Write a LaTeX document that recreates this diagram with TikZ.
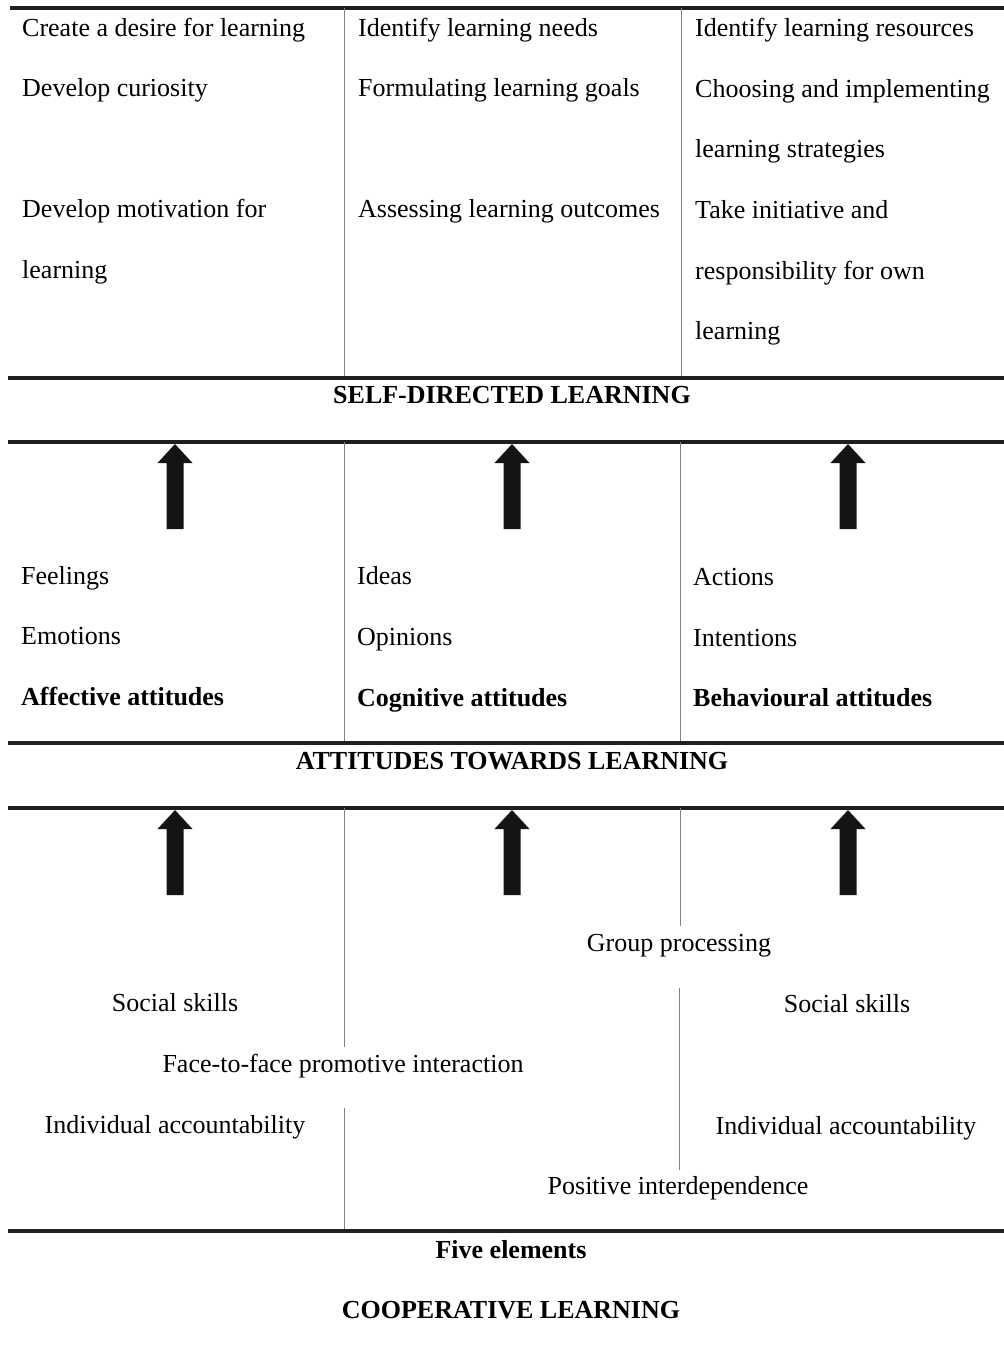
\documentclass[tikz,border=0pt]{standalone}
\usepackage{fontspec}
\setmainfont{Liberation Serif}
\begin{document}
\begin{tikzpicture}[x=1pt,y=-1pt,
  txt/.style={anchor=base west, inner sep=0pt, font=\fontsize{26}{30}\selectfont},
  ctxt/.style={anchor=base, inner sep=0pt, font=\fontsize{26}{30}\selectfont},
  btxt/.style={anchor=base west, inner sep=0pt, font=\fontsize{26}{30}\selectfont\bfseries},
  hdr/.style={anchor=base, inner sep=0pt, font=\fontsize{26}{30}\selectfont\bfseries},
  rule/.style={line width=3.5pt, black!88},
  vline/.style={line width=0.9pt, black!50},
  uparr/.pic={\fill[black!92] (0,0) -- (17.5,19) -- (8.5,19) -- (8.5,85) -- (-8.5,85) -- (-8.5,19) -- (-17.5,19) -- cycle;}
  ]
\fill[white] (0,0) rectangle (1004,1353);
\useasboundingbox (0,0) rectangle (1004,1353);

% ---------- top section ----------
\draw[rule] (10,8) -- (1004,8);
\draw[vline] (344,8) -- (344,378);
\draw[vline] (681,8) -- (681,378);

\node[txt] (a1) at (22,36) {Create a desire for learning};
\node[txt] (a2) at (22,96) {Develop curiosity};
\node[txt] (a3) at (22,217) {Develop motivation for};
\node[txt] (a4) at (22,278) {learning};

\node[txt] (b1) at (358,36) {Identify learning needs};
\node[txt] (b2) at (358,96) {Formulating learning goals};
\node[txt] (b3) at (358,217) {Assessing learning outcomes};

\node[txt] (c1) at (695,36) {Identify learning resources};
\node[txt] (c2) at (695,97) {Choosing and implementing};
\node[txt] (c3) at (695,157) {learning strategies};
\node[txt] (c4) at (695,218) {Take initiative and};
\node[txt] (c5) at (695,279) {responsibility for own};
\node[txt] (c6) at (695,339) {learning};

\draw[rule] (8,378) -- (1004,378);
\node[hdr] (h1) at (512,403) {SELF-DIRECTED LEARNING};
\draw[rule] (8,442) -- (1004,442);

% ---------- middle section ----------
\draw[vline] (344,442) -- (344,743);
\draw[vline] (680,442) -- (680,743);
\pic at (175,444) {uparr};
\pic at (512,444) {uparr};
\pic at (848,444) {uparr};

\node[txt] (d1) at (21,584) {Feelings};
\node[txt] (d2) at (21,644) {Emotions};
\node[btxt] (d3) at (21,705) {Affective attitudes};

\node[txt] (e1) at (357,584) {Ideas};
\node[txt] (e2) at (357,645) {Opinions};
\node[btxt] (e3) at (357,706) {Cognitive attitudes};

\node[txt] (f1) at (693,585) {Actions};
\node[txt] (f2) at (693,646) {Intentions};
\node[btxt] (f3) at (693,706) {Behavioural attitudes};

\draw[rule] (8,743) -- (1004,743);
\node[hdr] (h2) at (512,769) {ATTITUDES TOWARDS LEARNING};
\draw[rule] (8,808) -- (1004,808);

% ---------- bottom section ----------
\draw[vline] (344,808) -- (344,1047);
\draw[vline] (344,1108) -- (344,1231);
\draw[vline] (680,808) -- (680,926);
\draw[vline] (679.5,988) -- (679.5,1170);
\pic at (175,810) {uparr};
\pic at (512,810) {uparr};
\pic at (848,810) {uparr};

\node[ctxt] (g1) at (679,951) {Group processing};
\node[ctxt] (g2) at (175,1011) {Social skills};
\node[ctxt] (g3) at (847,1012) {Social skills};
\node[ctxt] (g4) at (343,1072) {Face-to-face promotive interaction};
\node[ctxt] (g5) at (175,1133) {Individual accountability};
\node[ctxt] (g6) at (846,1134) {Individual accountability};
\node[ctxt] (g7) at (678,1194) {Positive interdependence};

\draw[rule] (8,1231) -- (1004,1231);
\node[hdr] (h3) at (511,1258) {Five elements};
\node[hdr] (h4) at (511,1318) {COOPERATIVE LEARNING};
\end{tikzpicture}
\end{document}
